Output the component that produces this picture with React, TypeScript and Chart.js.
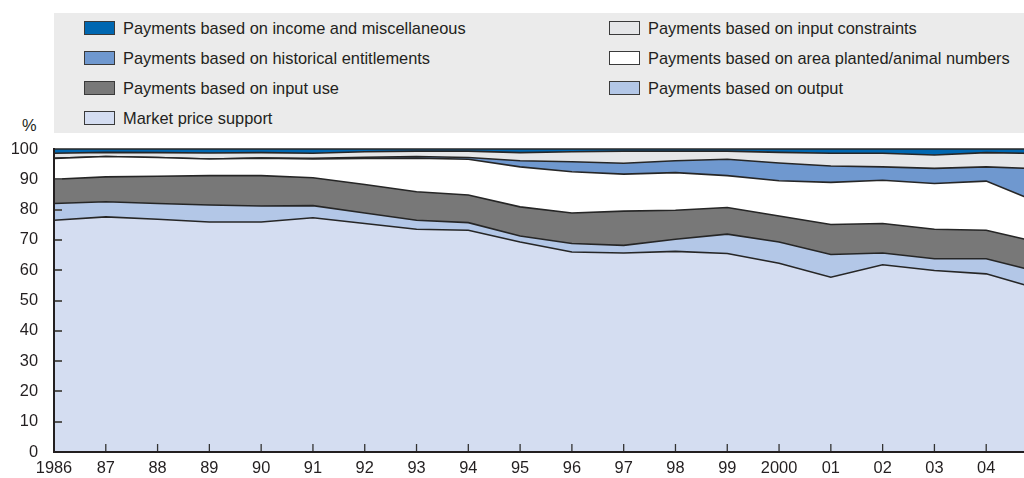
import React, { useEffect, useRef } from "react";
import { Chart, registerables } from "chart.js";

Chart.register(...registerables);

const years = ["1986", "87", "88", "89", "90", "91", "92", "93", "94", "95", "96", "97", "98", "99", "2000", "01", "02", "03", "04", "05"];

const marketPriceSupport = [76.5, 77.6, 76.8, 75.9, 75.9, 77.3, 75.4, 73.5, 73.2, 69.3, 66.0, 65.7, 66.2, 65.5, 62.3, 57.7, 61.8, 59.9, 58.8, 53.9];
const basedOnOutput = [5.5, 5.0, 5.2, 5.6, 5.3, 4.0, 3.5, 3.0, 2.5, 2.0, 2.8, 2.5, 4.0, 6.4, 7.0, 7.5, 3.9, 3.9, 5.0, 5.6];
const basedOnInputUse = [8.0, 8.2, 9.0, 9.7, 10.0, 9.2, 9.4, 9.4, 9.1, 9.6, 10.1, 11.3, 9.6, 8.8, 8.6, 9.9, 9.7, 9.7, 9.4, 9.7];
const basedOnAreaAnimals = [6.9, 6.7, 6.2, 5.5, 5.8, 6.2, 8.6, 11.1, 11.8, 13.2, 13.6, 12.2, 12.4, 10.5, 11.6, 13.9, 14.3, 15.1, 16.2, 13.2];
const basedOnHistorical = [0, 0, 0, 0, 0, 0.2, 0.4, 0.5, 0.6, 2.0, 3.3, 3.6, 3.9, 5.4, 5.9, 5.4, 4.4, 5.0, 4.7, 11.1];
const basedOnInputConstraints = [1.7, 1.4, 1.6, 2.0, 1.8, 1.7, 1.8, 1.8, 2.1, 2.7, 3.3, 4.0, 3.2, 2.7, 3.5, 4.2, 4.5, 4.4, 4.7, 5.0];
const basedOnIncomeMisc = [1.4, 1.1, 1.2, 1.3, 1.2, 1.4, 0.9, 0.7, 0.7, 1.2, 0.9, 0.7, 0.7, 0.7, 1.1, 1.4, 1.4, 2.0, 1.2, 1.5];

const yTickValues = [0, 10, 20, 30, 40, 50, 60, 70, 80, 90, 100];

// Series in stacking order (bottom first)
const seriesNames = [
  "Market price support",
  "Payments based on output",
  "Payments based on input use",
  "Payments based on area planted/animal numbers",
  "Payments based on historical entitlements",
  "Payments based on input constraints",
  "Payments based on income and miscellaneous",
];
const seriesValues = [
  marketPriceSupport,
  basedOnOutput,
  basedOnInputUse,
  basedOnAreaAnimals,
  basedOnHistorical,
  basedOnInputConstraints,
  basedOnIncomeMisc,
];
const seriesColors = ["#d4ddf1", "#b3c7e7", "#787878", "#ffffff", "#6f98cf", "#e5e6e8", "#0067b1"];

// legend columns (indices into series arrays)
const legendColumn1 = [6, 4, 2, 0];
const legendColumn2 = [5, 3, 1];

const FONT = "'Liberation Sans', Arial, Helvetica, sans-serif";
const FONT_SIZE = 16.4;
const TEXT = "#231f20";

const innerTicks = {
  id: "innerTicks",
  afterDatasetsDraw(chart: any) {
    const ctx = chart.ctx;
    const x = chart.scales.x;
    const y = chart.scales.y;
    const area = chart.chartArea;
    ctx.save();
    ctx.strokeStyle = "#555555";
    ctx.lineWidth = 2;
    yTickValues.forEach((v) => {
      if (v === 0 || v === 100) return;
      const py = Math.round(y.getPixelForValue(v));
      ctx.beginPath();
      ctx.moveTo(area.left, py);
      ctx.lineTo(area.left + 8, py);
      ctx.stroke();
    });
    ctx.strokeStyle = "#333333";
    ctx.lineWidth = 1.3;
    years.forEach((_, i) => {
      if (i === 0) return;
      const px = x.getPixelForValue(i);
      ctx.beginPath();
      ctx.moveTo(px, area.bottom);
      ctx.lineTo(px, area.bottom - 8);
      ctx.stroke();
    });
    ctx.restore();
  },
};

export default function App() {
  const canvasRef = useRef<HTMLCanvasElement | null>(null);

  useEffect(() => {
    const canvas = canvasRef.current;
    if (!canvas) return;
    const chart = new Chart(canvas, {
      type: "line",
      data: {
        labels: years,
        datasets: seriesValues.map((vals, i) => ({
          label: seriesNames[i],
          data: vals,
          backgroundColor: seriesColors[i],
          borderColor: "#262626",
          borderWidth: 1.6,
          pointRadius: 0,
          tension: 0,
          fill: i === 0 ? "origin" : "-1",
          clip: false as any,
        })),
      },
      options: {
        responsive: false,
        animation: false,
        devicePixelRatio: 1,
        layout: { padding: { top: 149, right: 20, bottom: 0, left: 0 } },
        plugins: {
          legend: { display: false },
          tooltip: { enabled: false },
          filler: { propagate: false },
        },
        scales: {
          x: {
            type: "category",
            offset: false,
            grid: { display: false, drawTicks: false },
            border: { display: true, color: TEXT, width: 2, z: 1 } as any,
            ticks: {
              autoSkip: false,
              maxRotation: 0,
              padding: 7,
              color: TEXT,
              font: { family: FONT, size: FONT_SIZE },
            },
            afterFit: (s: any) => {
              s.height = 26;
            },
          },
          y: {
            stacked: true,
            min: 0,
            max: 100,
            grid: { display: false, drawTicks: false },
            border: { display: true, color: TEXT, width: 2, z: 1 } as any,
            afterBuildTicks: (s: any) => {
              s.ticks = yTickValues.map((v) => ({ value: v }));
            },
            ticks: {
              padding: 16,
              color: TEXT,
              font: { family: FONT, size: FONT_SIZE },
            },
            afterFit: (s: any) => {
              s.width = 54;
            },
          },
        },
      },
      plugins: [innerTicks],
    });
    return () => chart.destroy();
  }, []);

  const legendItem = (idx: number, left: number, row: number) => (
    <div
      key={idx}
      style={{
        position: "absolute",
        left,
        top: 28 + row * 30 - 10,
        height: 20,
        display: "flex",
        alignItems: "center",
        whiteSpace: "nowrap",
      }}
    >
      <span
        style={{
          display: "inline-block",
          width: 29,
          height: 12,
          background: seriesColors[idx],
          border: "1.5px solid #3a3a3a",
          marginRight: 8,
        }}
      />
      <span style={{ fontFamily: FONT, fontSize: FONT_SIZE, color: TEXT }}>{seriesNames[idx]}</span>
    </div>
  );

  return (
    <div style={{ position: "fixed", left: 0, top: 0, width: 1024, height: 478, overflow: "hidden", background: "#ffffff" }}>
      <div style={{ position: "absolute", left: 54, top: 13, width: 1004, height: 120, background: "#ebebeb" }} />
      {legendColumn1.map((idx, r) => legendItem(idx, 84, r))}
      {legendColumn2.map((idx, r) => legendItem(idx, 609, r))}
      <div
        style={{
          position: "absolute",
          left: 22,
          top: 116,
          fontFamily: FONT,
          fontSize: FONT_SIZE,
          color: TEXT,
        }}
      >
        %
      </div>
      <div style={{ position: "absolute", left: 0, top: 0, width: 1058, height: 478 }}>
        <canvas ref={canvasRef} width={1058} height={478} style={{ width: 1058, height: 478, display: "block" }} />
      </div>
    </div>
  );
}
